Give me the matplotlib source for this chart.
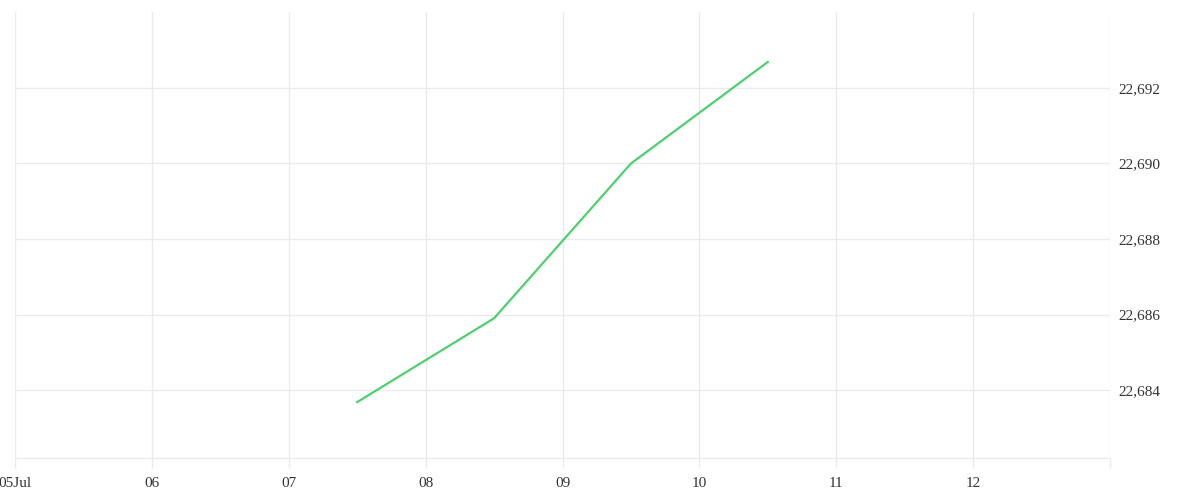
import pandas as pd
import matplotlib
matplotlib.use('Agg')
import matplotlib.pyplot as plt
from matplotlib.ticker import FuncFormatter

dates = ['2024-07-07 12:00', '2024-07-08 12:00', '2024-07-09 12:00', '2024-07-10 12:00']
values = [22.68368, 22.68590, 22.69000, 22.69269]
tick_days = ['2024-07-05', '2024-07-06', '2024-07-07', '2024-07-08',
             '2024-07-09', '2024-07-10', '2024-07-11', '2024-07-12', '2024-07-13']
tick_labels = ['05Jul', '06', '07', '08', '09', '10', '11', '12', '']
y_ticks = [22.684, 22.686, 22.688, 22.690, 22.692]

grid_color = '#ebebeb'


def main():
    plt.rcParams['font.family'] = ['Liberation Serif', 'DejaVu Serif']

    fig = plt.figure(figsize=(12, 5), dpi=100)
    ax = fig.add_axes([0.0125, 0.084, 0.9125, 0.892])

    x = pd.to_datetime(dates)
    ax.plot(x, values, color='#4ed06f', linewidth=1.6)

    ticks = pd.to_datetime(tick_days)
    ax.set_xlim(ticks[0], ticks[-1])
    ax.set_xticks(ticks)
    ax.set_xticklabels(tick_labels)

    ax.set_ylim(22.682199, 22.694013)
    ax.set_yticks(y_ticks)
    ax.yaxis.set_major_formatter(FuncFormatter(lambda v, p: f'{v:.3f}'.replace('.', ',')))
    ax.yaxis.tick_right()

    ax.grid(True, color=grid_color, linewidth=1)
    for s in ['top', 'left', 'right']:
        ax.spines[s].set_visible(False)
    ax.spines['bottom'].set_color(grid_color)
    ax.spines['bottom'].set_linewidth(1)

    ax.tick_params(axis='x', length=7, width=1, color=grid_color, pad=7,
                   labelsize=11, labelcolor='#333333')
    ax.tick_params(axis='y', length=0, pad=6, labelsize=11, labelcolor='#333333')

    fig.savefig('out.png', dpi=100, facecolor='white')


if __name__ == '__main__':
    main()
